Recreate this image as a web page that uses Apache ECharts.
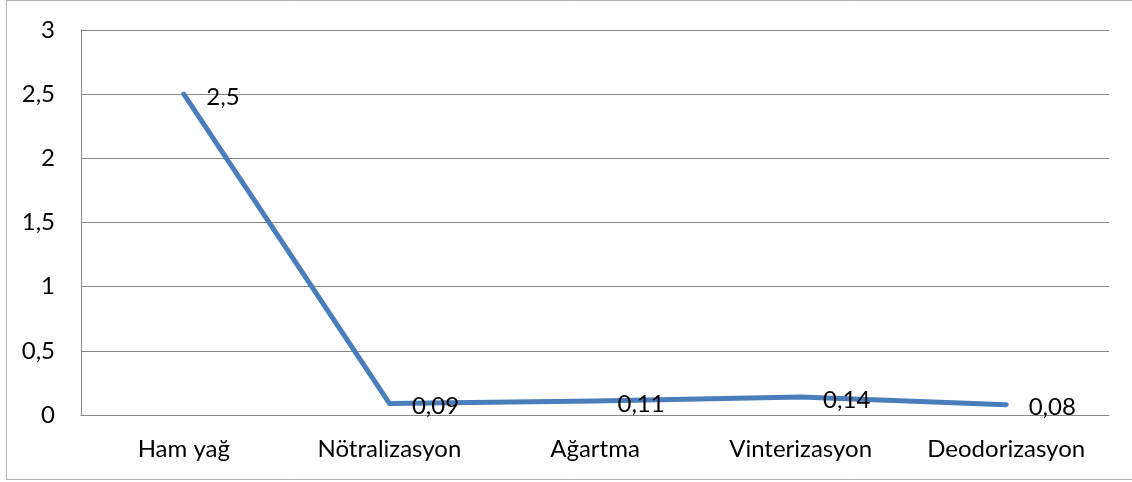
<!DOCTYPE html>
<html><head><meta charset="utf-8">
<script src="https://cdn.jsdelivr.net/npm/echarts@6/dist/echarts.min.js"></script>
<style>html,body{margin:0;padding:0;background:#fff}#c{width:1132px;height:482px}</style>
</head><body><div id="c"></div>
<script>
var categories = ['Ham yağ', 'Nötralizasyon', 'Ağartma', 'Vinterizasyon', 'Deodorizasyon'];
var values = [2.5, 0.09, 0.11, 0.14, 0.08];
var yTicks = [0, 0.5, 1, 1.5, 2, 2.5, 3];

function fmt(v) { return String(v).replace('.', ','); }
var chart = echarts.init(document.getElementById('c'), null, {renderer: 'canvas'});
var font = 'Lato, "Open Sans", sans-serif';
chart.setOption({
  animation: false,
  backgroundColor: '#fff',
  graphic: [{type: 'rect', shape: {x: 6.5, y: 0.5, width: 1130, height: 479}, style: {fill: 'none', stroke: '#b0b0b0', lineWidth: 1}}],
  grid: {left: 81, right: 23, top: 30, bottom: 67},
  xAxis: {
    type: 'category', data: categories, boundaryGap: true,
    axisLine: {lineStyle: {color: '#868686', width: 1}},
    axisTick: {show: false},
    axisLabel: {color: '#000', fontFamily: font, fontSize: 24, margin: 22}
  },
  yAxis: {
    type: 'value', min: yTicks[0], max: yTicks[yTicks.length - 1], interval: 0.5,
    axisLine: {show: true, lineStyle: {color: '#868686', width: 1}},
    axisTick: {show: false},
    splitLine: {lineStyle: {color: '#868686', width: 1}},
    axisLabel: {color: '#000', fontFamily: font, fontSize: 24, margin: 26, formatter: function (v) { return fmt(v); }}
  },
  series: [{
    type: 'line', data: values, showSymbol: true, symbol: 'circle', symbolSize: 1,
    itemStyle: {color: 'rgba(0,0,0,0)'},
    lineStyle: {color: '#4a7ebb', width: 5, cap: 'round', join: 'round'},
    label: {show: true, position: 'right', distance: 22, offset: [0, 3], color: '#000', fontFamily: font, fontSize: 24,
      formatter: function (p) { return fmt(p.value); }}
  }]
});
</script></body></html>
